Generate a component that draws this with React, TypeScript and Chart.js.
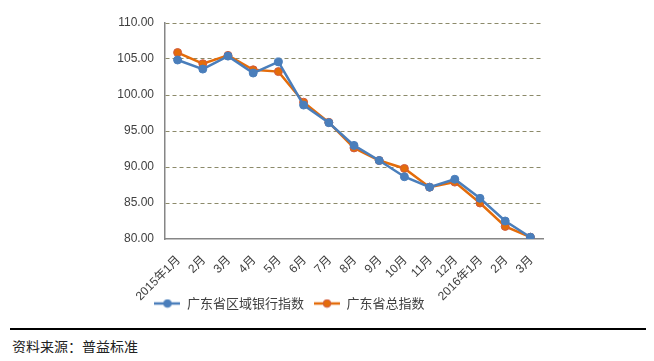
import React, { useEffect, useRef } from "react";
import { Chart, registerables } from "chart.js";

Chart.register(...registerables);

const categories = ["2015年1月", "2月", "3月", "4月", "5月", "6月", "7月", "8月", "9月", "10月", "11月", "12月", "2016年1月", "2月", "3月"];
const regionalBank = [104.86, 103.6, 105.4, 103.05, 104.6, 98.6, 96.15, 93.0, 90.9, 88.65, 87.2, 88.3, 85.65, 82.5, 80.25];
const provinceTotal = [105.9, 104.35, 105.5, 103.5, 103.25, 99.0, 96.2, 92.65, 90.9, 89.8, 87.2, 87.9, 85.0, 81.75, 80.25];
const seriesNames = ["广东省区域银行指数", "广东省总指数"];
const sourceText = "资料来源：普益标准";

const BLUE = "#4a7ebb";
const ORANGE = "#e46c0a";
const ORANGE_EDGE = "#d05a40";

function legendIcon(color: string, border: string) {
  const c = document.createElement("canvas");
  c.width = 26;
  c.height = 10;
  const ctx = c.getContext("2d")!;
  ctx.strokeStyle = color;
  ctx.lineWidth = 2.5;
  ctx.beginPath();
  ctx.moveTo(0, 5);
  ctx.lineTo(26, 5);
  ctx.stroke();
  ctx.fillStyle = color;
  ctx.strokeStyle = border;
  ctx.lineWidth = 1;
  ctx.beginPath();
  ctx.arc(13, 5, 3.8, 0, Math.PI * 2);
  ctx.fill();
  ctx.stroke();
  return c;
}

export default function App() {
  const ref = useRef<HTMLCanvasElement>(null);
  useEffect(() => {
    if (!ref.current) return;
    const blueIcon = legendIcon(BLUE, BLUE);
    const orangeIcon = legendIcon(ORANGE, ORANGE_EDGE);
    const chart = new Chart(ref.current, {
      type: "line",
      data: {
        labels: categories,
        datasets: [
          {
            label: seriesNames[0],
            data: regionalBank,
            borderColor: BLUE,
            backgroundColor: BLUE,
            borderWidth: 2.5,
            pointRadius: 4,
            pointStyle: "circle",
            pointBackgroundColor: BLUE,
            pointBorderColor: BLUE,
            pointBorderWidth: 1,
            tension: 0,
          },
          {
            label: seriesNames[1],
            data: provinceTotal,
            borderColor: ORANGE,
            backgroundColor: ORANGE,
            borderWidth: 2.5,
            pointRadius: 4,
            pointStyle: "circle",
            pointBackgroundColor: ORANGE,
            pointBorderColor: ORANGE_EDGE,
            pointBorderWidth: 1,
            tension: 0,
          },
        ],
      },
      options: {
        animation: false,
        responsive: false,
        maintainAspectRatio: false,
        layout: { padding: { left: 28, right: 37, top: 23, bottom: 0 } },
        plugins: {
          tooltip: { enabled: false },
          legend: {
            position: "bottom",
            labels: {
              usePointStyle: true,
              pointStyleWidth: 26,
              padding: 10,
              color: "#404040",
              font: { family: "'Noto Sans CJK SC', 'Liberation Sans', sans-serif", size: 13 },
              generateLabels: (c: any) =>
                c.data.datasets.map((ds: any, i: number) => ({
                  text: ds.label,
                  pointStyle: i === 0 ? blueIcon : orangeIcon,
                  fillStyle: ds.borderColor,
                  strokeStyle: ds.borderColor,
                  lineWidth: 0,
                  hidden: false,
                  datasetIndex: i,
                  fontColor: "#404040",
                })),
            },
          },
        },
        scales: {
          x: {
            offset: true,
            afterFit: (s: any) => {
              s.height = 48;
              s._computeLabelArea = () => undefined;
            },
            grid: { display: false, drawTicks: false, offset: true },
            border: { display: true, color: "#868686", width: 1.5 },
            ticks: {
              minRotation: 45,
              maxRotation: 45,
              autoSkip: false,
              padding: 14,
              labelOffset: 1,
              color: "#404040",
              font: { family: "'Liberation Sans', 'Noto Sans CJK SC', sans-serif", size: 12 },
            },
          },
          y: {
            min: 80,
            max: 110,
            afterFit: (s: any) => {
              s.width = 129;
            },
            grid: {
              drawTicks: false,
              color: (ctx: any) => (ctx.tick && ctx.tick.value === 80 ? "rgba(0,0,0,0)" : "#8c8a6a"),
              lineWidth: 1,
            },
            border: { display: true, color: "#868686", width: 1.5, dash: [4, 3] },
            ticks: {
              stepSize: 5,
              padding: 11,
              color: "#404040",
              font: { family: "'Liberation Sans', sans-serif", size: 12 },
              callback: (v: any) => Number(v).toFixed(2),
            },
          },
        },
      },
    });
    return () => chart.destroy();
  }, []);
  return (
    <div style={{ position: "relative", width: 654, height: 361, margin: -8, background: "#fff" }}>
      <canvas ref={ref} width={572} height={320} style={{ position: "absolute", left: 8, top: 0, width: 572, height: 320 }} />
      <div style={{ position: "absolute", left: 10, top: 328, width: 637, height: 2, background: "#000" }} />
      <div
        style={{
          position: "absolute",
          left: 12,
          top: 337,
          fontFamily: "'Noto Sans CJK SC', sans-serif",
          fontSize: 14,
          lineHeight: "18px",
          color: "#222",
        }}
      >
        {sourceText}
      </div>
    </div>
  );
}
